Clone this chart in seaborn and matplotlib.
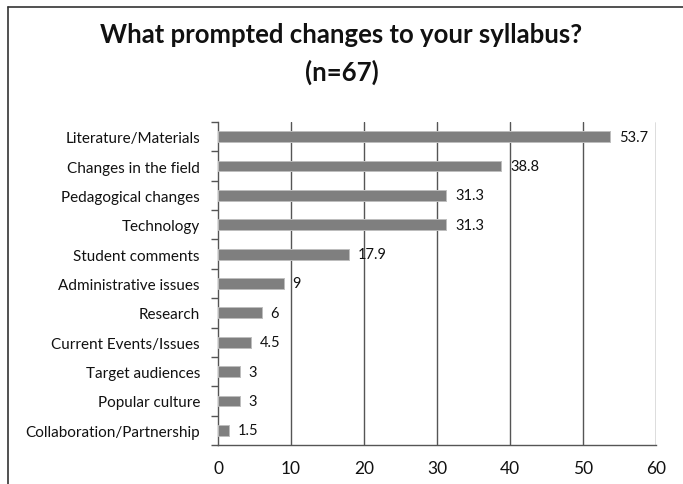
import matplotlib
matplotlib.use("Agg")
import matplotlib.pyplot as plt
from matplotlib.lines import Line2D
import seaborn as sns
import pandas as pd

categories = [
    "Literature/Materials",
    "Changes in the field",
    "Pedagogical changes",
    "Technology",
    "Student comments",
    "Administrative issues",
    "Research",
    "Current Events/Issues",
    "Target audiences",
    "Popular culture",
    "Collaboration/Partnership",
]
values = [53.7, 38.8, 31.3, 31.3, 17.9, 9, 6, 4.5, 3, 3, 1.5]
x_ticks = [0, 10, 20, 30, 40, 50, 60]
title_lines = ["What prompted changes to your syllabus?", "(n=67)"]

df = pd.DataFrame({"reason": categories, "pct": values})

sns.set_theme(style="white")
plt.rcParams["font.family"] = ["Lato", "DejaVu Sans"]

W, H = 683, 485
fig = plt.figure(figsize=(W / 100, H / 100), dpi=100)
ax = fig.add_axes([218 / W, (H - 446) / H, 438 / W, 323 / H])

sns.barplot(data=df, y="reason", x="pct", orient="h", ax=ax,
            color="#7f7f7f", saturation=1, width=0.37,
            edgecolor="#bdbdbd", linewidth=0.7, zorder=3)

ax.set_xlim(0, 60)
ax.set_ylim(len(categories) - 0.5, -0.5)
ax.set_xticks(x_ticks)
ax.set_xticklabels([str(t) for t in x_ticks], fontsize=12.5, color="#111111")
ax.set_xlabel("")
ax.set_ylabel("")

# vertical gridlines
for t in x_ticks[1:]:
    ax.axvline(t, color="#555555", linewidth=1.0, zorder=1)

# spines: left and bottom only
for s in ["top", "right"]:
    ax.spines[s].set_visible(False)
for s in ["left", "bottom"]:
    ax.spines[s].set_color("#555555")
    ax.spines[s].set_linewidth(1.0)

ax.tick_params(axis="y", length=0, labelsize=11, labelcolor="#111111", pad=13)
ax.tick_params(axis="x", length=3, width=1.0, color="#555555", direction="out", pad=8)

# tick marks between categories on the y axis
ax.set_yticks([i - 0.5 for i in range(len(categories) + 1)], minor=True)
ax.tick_params(axis="y", which="minor", length=5, width=1.0, color="#555555",
               direction="out", left=True)

# value labels at the bar ends
for i, v in enumerate(values):
    ax.text(v + 1.2, i, f"{v:g}", va="center", ha="left", fontsize=10.5, color="#111111")

# two-line bold title
fig.text(0.5, 1 - 35 / H, title_lines[0], ha="center", va="center",
         fontsize=18.5, fontweight="bold", color="#111111")
fig.text(0.5, 1 - 72 / H, title_lines[1], ha="center", va="center",
         fontsize=18.5, fontweight="bold", color="#111111")

# outer frame edges
fig.add_artist(Line2D([8 / W, 8 / W], [0, 1 - 8 / H],
                      transform=fig.transFigure, color="#333333", linewidth=1.2))
fig.add_artist(Line2D([8 / W, 1], [1 - 8 / H, 1 - 8 / H],
                      transform=fig.transFigure, color="#333333", linewidth=1.2))

fig.savefig("out.png", dpi=100)
